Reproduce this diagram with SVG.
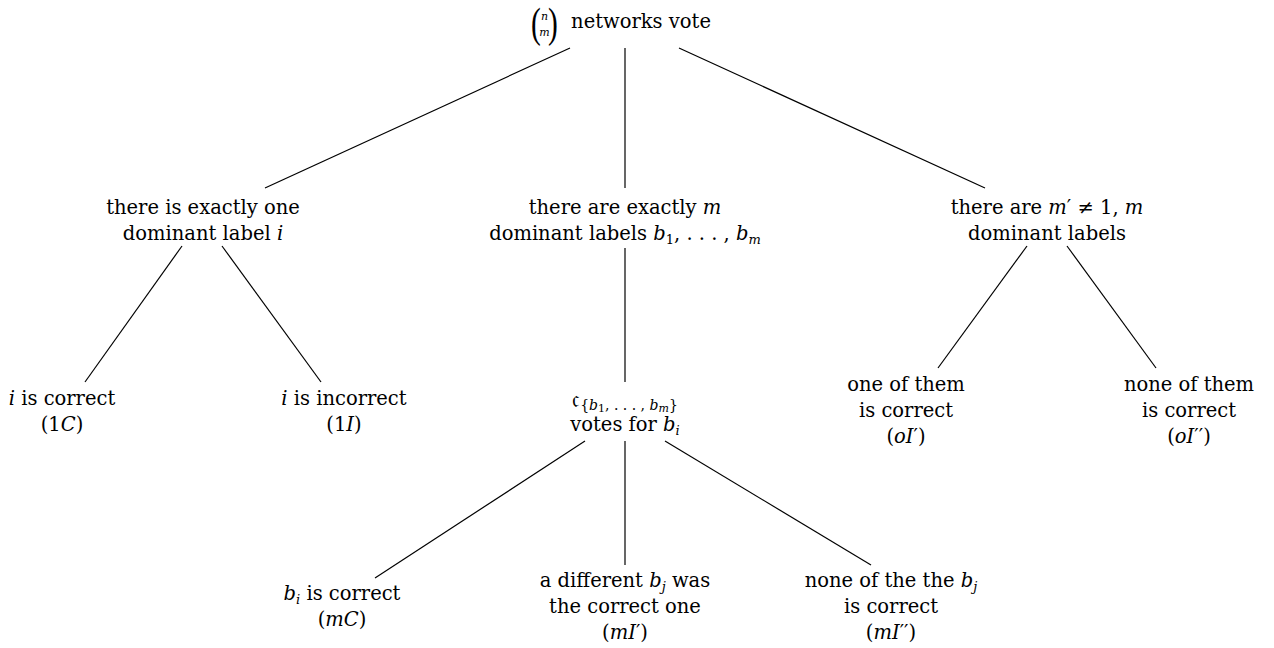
<svg xmlns="http://www.w3.org/2000/svg" width="1274" height="648" viewBox="0 0 1274 648">
<style>
text{font-family:"DejaVu Serif","Liberation Serif",serif;font-size:19.5px;fill:#000;text-anchor:middle}
.i{font-style:italic}
.s{font-size:13px}
.t{font-size:11px}
.p{font-family:"Liberation Serif",serif;font-size:42px}
.e{stroke:#000;stroke-width:1.2;fill:none}
</style>
<rect width="1274" height="648" fill="#fff"/>
<g id="connectors">
<line class="e" x1="570" y1="48" x2="265" y2="188"/>
<line class="e" x1="625" y1="48" x2="625" y2="188"/>
<line class="e" x1="679" y1="48" x2="985" y2="188"/>
<line class="e" x1="182" y1="246" x2="85" y2="382"/>
<line class="e" x1="222" y1="246" x2="321" y2="382"/>
<line class="e" x1="625" y1="248" x2="625" y2="382"/>
<line class="e" x1="1027" y1="246" x2="938" y2="368"/>
<line class="e" x1="1067" y1="246" x2="1156" y2="368"/>
<line class="e" x1="585" y1="441" x2="375" y2="578"/>
<line class="e" x1="625" y1="441" x2="625" y2="565"/>
<line class="e" x1="665" y1="441" x2="871" y2="565"/>
</g>
<g id="root">
<text class="p" transform="translate(536 37) scale(0.7 1)" x="0" y="0">(</text>
<text class="p" transform="translate(553 37) scale(0.7 1)" x="0" y="0">)</text>
<text x="544.5" y="20" class="i t">n</text>
<text x="544.5" y="36" class="i t">m</text>
<text x="641" y="28">networks vote</text>
</g>
<g id="n-one">
<text x="203" y="214">there is exactly one</text>
<text x="203" y="240">dominant label <tspan class="i">i</tspan></text>
</g>
<g id="n-m">
<text x="625" y="214">there are exactly <tspan class="i">m</tspan></text>
<text x="625" y="240">dominant labels <tspan class="i">b</tspan><tspan class="s" dy="4">1</tspan><tspan dy="-4">, . . . , </tspan><tspan class="i">b</tspan><tspan class="s i" dy="4">m</tspan></text>
</g>
<g id="n-other">
<text x="1047" y="214">there are <tspan class="i">m</tspan>′ ≠ 1, <tspan class="i">m</tspan></text>
<text x="1047" y="240">dominant labels</text>
</g>
<g id="n-1C">
<text x="62" y="405"><tspan class="i">i</tspan> is correct</text>
<text x="62" y="431">(1<tspan class="i">C</tspan>)</text>
</g>
<g id="n-1I">
<text x="344" y="405"><tspan class="i">i</tspan> is incorrect</text>
<text x="344" y="431">(1<tspan class="i">I</tspan>)</text>
</g>
<g id="n-votes">
<text x="625" y="407" style="font-size:14px"><tspan style="font-size:24px">𝔠</tspan><tspan dy="3">{</tspan><tspan class="i">b</tspan><tspan dy="2" style="font-size:11px">1</tspan><tspan dy="-2">, . . . , </tspan><tspan class="i">b</tspan><tspan dy="2" class="i" style="font-size:11px">m</tspan><tspan dy="-2">}</tspan></text>
<text x="625" y="431">votes for <tspan class="i">b</tspan><tspan class="s i" dy="4">i</tspan></text>
</g>
<g id="n-oI1">
<text x="906" y="391">one of them</text>
<text x="906" y="417">is correct</text>
<text x="906" y="443">(<tspan class="i">oI</tspan>′)</text>
</g>
<g id="n-oI2">
<text x="1189" y="391">none of them</text>
<text x="1189" y="417">is correct</text>
<text x="1189" y="443">(<tspan class="i">oI</tspan>′′)</text>
</g>
<g id="n-mC">
<text x="342" y="600"><tspan class="i">b</tspan><tspan class="s i" dy="4">i</tspan><tspan dy="-4"> is correct</tspan></text>
<text x="342" y="626">(<tspan class="i">mC</tspan>)</text>
</g>
<g id="n-mI1">
<text x="625" y="587">a different <tspan class="i">b</tspan><tspan class="s i" dy="4">j</tspan><tspan dy="-4"> was</tspan></text>
<text x="625" y="613">the correct one</text>
<text x="625" y="639">(<tspan class="i">mI</tspan>′)</text>
</g>
<g id="n-mI2">
<text x="891" y="587">none of the the <tspan class="i">b</tspan><tspan class="s i" dy="4">j</tspan></text>
<text x="891" y="613">is correct</text>
<text x="891" y="639">(<tspan class="i">mI</tspan>′′)</text>
</g>
</svg>
